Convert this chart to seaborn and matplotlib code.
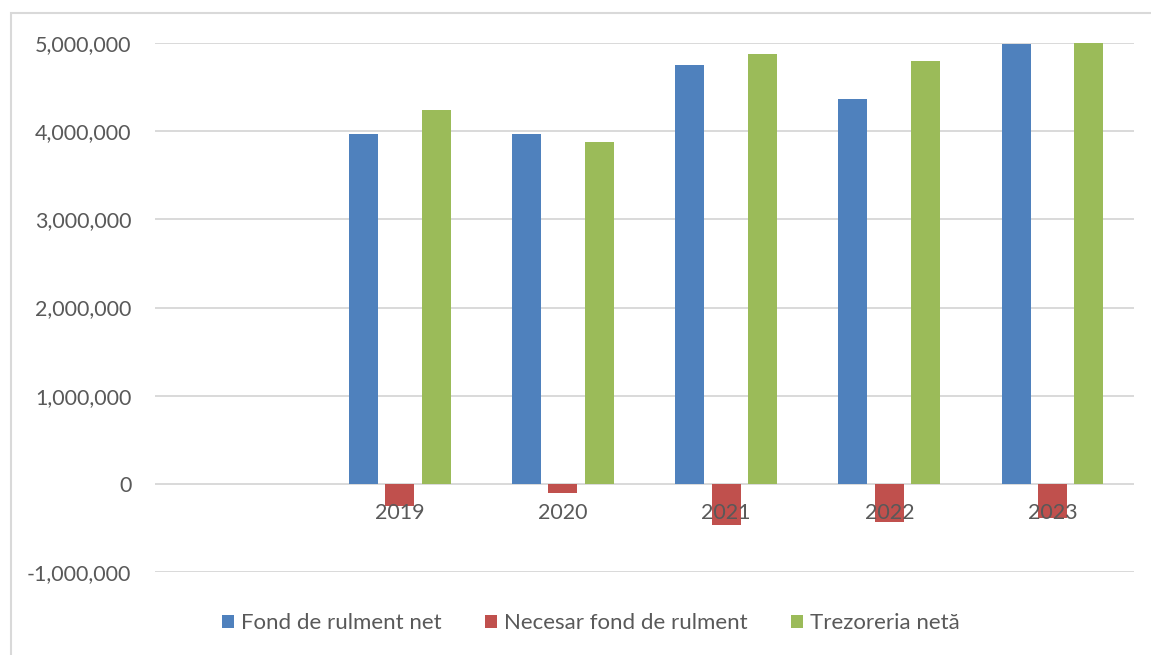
import pandas as pd
import matplotlib.pyplot as plt
import seaborn as sns
from matplotlib.patches import Rectangle
from matplotlib.ticker import FuncFormatter

# first category is an empty slot in the original chart
years = ["", "2019", "2020", "2021", "2022", "2023"]
series = ["Fond de rulment net", "Necesar fond de rulment", "Trezoreria netă"]
fond_rulment = [3970000, 3970000, 4750000, 4370000, 4985000]
necesar_fond = [-250000, -100000, -470000, -430000, -390000]
trezoreria = [4240000, 3875000, 4875000, 4800000, 5010000]
colors = ["#4F81BD", "#C0504D", "#9BBB59"]

rows = []
for name, vals in zip(series, [fond_rulment, necesar_fond, trezoreria]):
    for an, v in zip(years[1:], vals):
        rows.append({"an": an, "serie": name, "valoare": v})
df = pd.DataFrame(rows)

sns.set_style("white")
plt.rcParams["font.family"] = ["Lato", "DejaVu Sans"]
text_col = "#595959"

fig = plt.figure(figsize=(11.51, 6.55), dpi=100)
ax = fig.add_axes([155 / 1151, 1 - 572 / 655, 979 / 1151, 529 / 655])

sns.barplot(data=df, x="an", y="valoare", hue="serie",
            order=years, hue_order=series, palette=colors, saturation=1,
            width=0.667, gap=0.2, linewidth=0, ax=ax)

ax.set_ylim(-1000000, 5000000)
ax.set_yticks(range(-1000000, 5000001, 1000000))
ax.yaxis.set_major_formatter(FuncFormatter(lambda v, p: f"{int(v):,}"))
ax.yaxis.grid(True, color="#D9D9D9", linewidth=1.4)
ax.xaxis.grid(False)
ax.set_axisbelow(True)
for s in ax.spines.values():
    s.set_visible(False)
ax.spines["bottom"].set_position(("data", 0))

# year labels sit on the zero line, drawn over the negative bars
ax.xaxis.set_zorder(5)
ax.tick_params(axis="x", length=0, pad=14, labelsize=15.5, labelcolor=text_col)
ax.tick_params(axis="y", length=0, pad=17, labelsize=15.5, labelcolor=text_col)
ax.set_xlabel("")
ax.set_ylabel("")

handles, labels = ax.get_legend_handles_labels()
ax.get_legend().remove()
leg = fig.legend(handles, labels, loc="center", ncol=3, frameon=False,
                 bbox_to_anchor=(591 / 1151, 1 - 623 / 655),
                 fontsize=16, handlelength=0.54, handleheight=0.54,
                 handletextpad=0.32, columnspacing=1.94)
for t in leg.get_texts():
    t.set_color(text_col)

fig.add_artist(Rectangle((11 / 1151, -0.05), 1.1, 1.05 - 13 / 655,
                         transform=fig.transFigure, fill=False,
                         edgecolor="#D9D9D9", linewidth=1.5))

fig.savefig("out.png", dpi=100)
